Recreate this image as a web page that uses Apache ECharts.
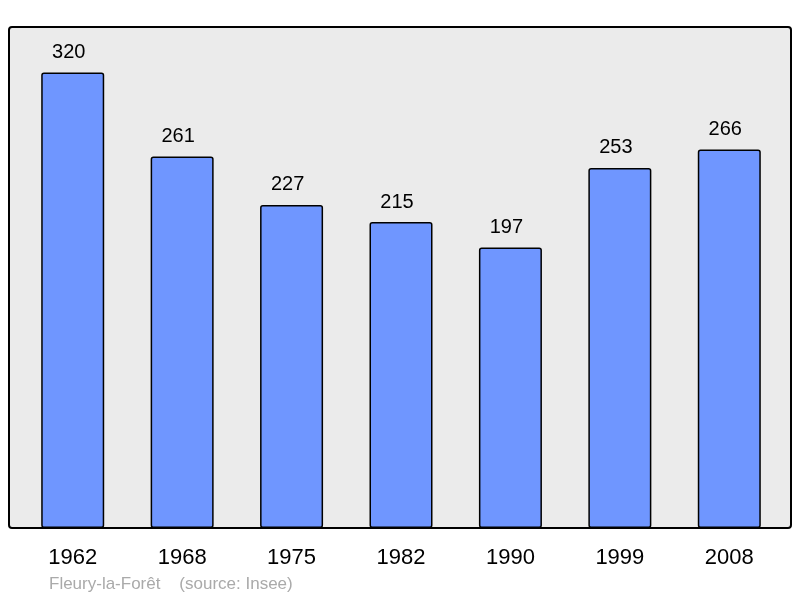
<!DOCTYPE html>
<html>
<head>
<meta charset="utf-8">
<script src="https://cdn.jsdelivr.net/npm/echarts@6/dist/echarts.min.js"></script>
<style>
  html, body { margin: 0; padding: 0; background: #fff; }
  #chart { width: 800px; height: 598px; }
</style>
</head>
<body>
<div id="chart"></div>
<script>
const years = ['1962', '1968', '1975', '1982', '1990', '1999', '2008'];
const population = [320, 261, 227, 215, 197, 253, 266];
const caption = 'Fleury-la-Forêt    (source: Insee)';

const chart = echarts.init(document.getElementById('chart'));
chart.setOption({
  animation: false,
  textStyle: { fontFamily: 'Liberation Sans, Arial, sans-serif' },
  graphic: [
    {
      type: 'rect',
      z: -10,
      shape: { x: 9, y: 27, width: 782, height: 501, r: 3 },
      style: { fill: '#ebebeb', stroke: '#000', lineWidth: 2 }
    },
    {
      type: 'text',
      left: 49,
      top: 576,
      style: { text: caption, fill: '#aaaaaa', font: '17px Liberation Sans, Arial, sans-serif' }
    }
  ],
  grid: { left: 18, right: 16, top: 27, bottom: 70 },
  xAxis: {
    type: 'category',
    data: years,
    axisLine: { show: false },
    axisTick: { show: false },
    axisLabel: { color: '#000', fontSize: 22, margin: 19 }
  },
  yAxis: {
    type: 'value',
    min: 0,
    max: 352,
    show: false,
    splitLine: { show: false }
  },
  series: [{
    type: 'bar',
    data: population,
    barWidth: 63,
    itemStyle: { color: '#6f96ff', borderColor: '#000', borderWidth: 1.5, borderRadius: 2 },
    label: { show: true, position: 'top', distance: 10, offset: [-4, 0], color: '#000', fontSize: 20 }
  }]
});
</script>
</body>
</html>
